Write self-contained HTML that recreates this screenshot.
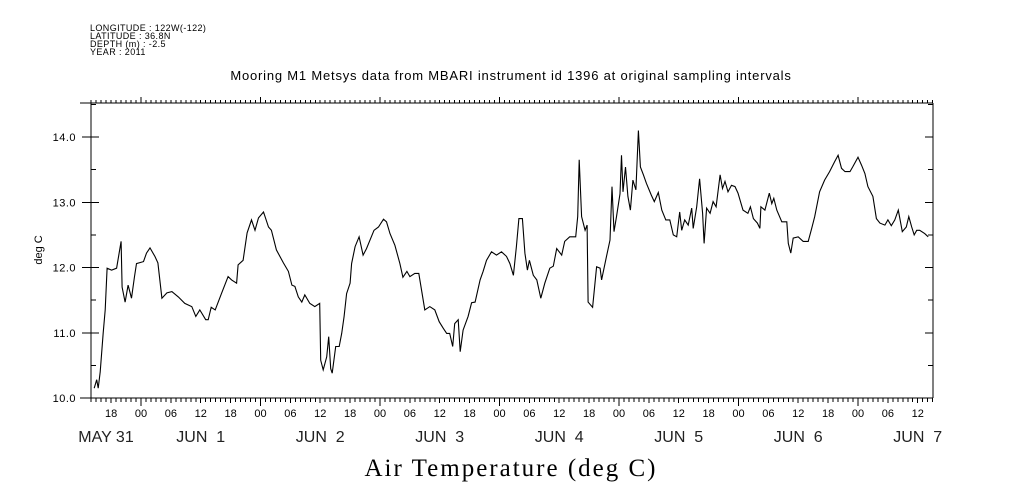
<!DOCTYPE html>
<html><head><meta charset="utf-8"><style>
html,body{margin:0;padding:0;background:#fff;}
svg{display:block;font-family:"Liberation Sans",sans-serif;}
</style></head><body>
<svg id="chart" width="1009" height="504" viewBox="0 0 1009 504">
<g font-size="9" letter-spacing="0.4" fill="#000">
<text x="90" y="31">LONGITUDE : 122W(-122)</text>
<text x="90" y="39">LATITUDE : 36.8N</text>
<text x="90" y="47">DEPTH (m) : -2.5</text>
<text x="90" y="55">YEAR : 2011</text>
</g>
<text x="511" y="80" text-anchor="middle" font-size="13" letter-spacing="0.8">Mooring M1 Metsys data from MBARI instrument id 1396 at original sampling intervals</text>
<text x="511" y="476" text-anchor="middle" font-size="25" font-family="Liberation Serif, serif" letter-spacing="2">Air Temperature (deg C)</text>
<text transform="translate(42,250) rotate(-90)" text-anchor="middle" font-size="11">deg C</text>
<g id="axes"></g>
<g id="series"></g>
</svg>
<script>
const hours=[-9.4,-8.9,-8.6,-8.2,-7.6,-7.2,-6.8,-5.9,-4.9,-4.0,-3.8,-3.2,-2.6,-1.9,-1.3,-0.9,0.5,1.1,1.8,2.8,3.4,4.2,5.2,6.2,7.5,8.8,10.2,11.0,11.8,13.0,13.5,14.1,14.9,16.2,17.5,18.2,19.2,19.5,20.5,21.3,22.2,22.9,23.6,24.6,25.6,26.2,27.2,28.6,29.6,30.3,30.9,31.6,32.3,32.9,33.9,34.9,35.9,36.1,36.6,37.3,37.7,38.1,38.4,39.1,39.8,40.3,40.8,41.3,42.0,42.3,43.0,43.8,44.6,45.3,46.0,46.8,47.7,48.7,49.3,50.0,51.0,52.0,52.6,53.4,54.0,55.0,55.8,56.4,57.0,58.0,59.0,59.9,60.7,61.4,62.0,62.6,63.0,63.7,64.1,64.7,65.7,66.4,67.1,68.1,68.7,69.4,70.4,71.4,72.4,73.4,74.1,74.8,75.4,75.9,76.6,77.1,77.6,78.0,78.8,79.5,80.3,81.1,82.1,82.8,83.5,84.5,85.1,86.1,87.3,87.7,88.0,88.5,89.2,89.6,89.8,90.7,91.5,92.2,92.5,93.5,94.2,94.6,95.0,95.5,96.2,96.5,96.8,97.3,97.8,98.3,98.8,99.4,99.9,100.3,100.9,101.5,102.5,103.1,103.9,104.6,105.4,106.2,106.9,107.6,108.2,108.6,109.2,109.9,110.6,110.9,111.6,112.2,112.8,113.1,113.6,114.3,114.9,115.5,116.3,116.8,117.3,117.9,118.6,119.3,119.9,120.9,121.9,122.4,123.0,123.8,124.3,124.5,125.3,126.2,126.7,127.1,127.7,128.7,129.7,130.0,130.5,131.0,132.0,133.0,134.0,134.7,135.3,136.3,137.3,138.3,139.3,140.0,140.7,141.4,142.4,143.0,144.0,144.7,145.4,146.0,147.0,147.7,148.4,149.4,150.0,150.7,151.4,152.1,152.9,153.7,154.2,154.8,155.3,155.8,156.4,157.4,158.1];
const temps=[10.15,10.28,10.15,10.40,11.0,11.35,11.99,11.96,11.99,12.40,11.70,11.47,11.73,11.53,11.86,12.06,12.09,12.22,12.30,12.17,12.07,11.53,11.61,11.63,11.55,11.45,11.40,11.25,11.35,11.20,11.20,11.39,11.35,11.61,11.86,11.81,11.76,12.04,12.11,12.53,12.73,12.57,12.76,12.85,12.62,12.57,12.27,12.07,11.94,11.73,11.71,11.55,11.47,11.58,11.45,11.40,11.45,10.58,10.43,10.63,10.94,10.45,10.38,10.79,10.79,10.99,11.25,11.60,11.76,12.06,12.32,12.47,12.19,12.29,12.42,12.57,12.62,12.74,12.70,12.52,12.34,12.06,11.85,11.94,11.86,11.91,11.91,11.63,11.35,11.40,11.35,11.17,11.07,10.99,10.99,10.79,11.14,11.20,10.71,11.04,11.25,11.46,11.47,11.81,11.94,12.11,12.24,12.19,12.24,12.17,12.06,11.88,12.32,12.75,12.75,12.22,11.96,12.11,11.88,11.81,11.53,11.76,11.99,12.02,12.29,12.19,12.40,12.47,12.47,12.78,13.65,12.78,12.57,12.65,11.47,11.39,12.01,11.99,11.81,12.17,12.42,13.24,12.55,12.78,13.13,13.72,13.16,13.54,13.09,12.88,13.34,13.19,14.10,13.54,13.42,13.29,13.11,13.01,13.15,12.88,12.73,12.73,12.50,12.47,12.85,12.57,12.73,12.65,12.91,12.60,12.93,13.36,12.83,12.37,12.91,12.83,13.01,12.93,13.42,13.21,13.32,13.16,13.26,13.24,13.14,12.88,12.83,12.93,12.75,12.68,12.60,12.93,12.88,13.14,12.98,13.06,12.88,12.70,12.70,12.37,12.22,12.45,12.47,12.40,12.40,12.60,12.78,13.16,13.34,13.47,13.62,13.72,13.52,13.47,13.47,13.55,13.69,13.57,13.44,13.24,13.09,12.75,12.68,12.65,12.73,12.64,12.73,12.88,12.55,12.62,12.78,12.62,12.50,12.57,12.57,12.52,12.47];
const yTicks=[10,11,12,13,14];
const yTickLabels=["10.0","11.0","12.0","13.0","14.0"];
const hourLabels=["18","00","06","12"];
const dateLabels=["MAY 31","JUN  1","JUN  2","JUN  3","JUN  4","JUN  5","JUN  6","JUN  7"];

const NS="http://www.w3.org/2000/svg";
const L=91,R=933,T=103,B=398;
const H0=141,PXH=4.979;
function xs(h){return H0+h*PXH;}
function ys(v){return B-(v-10)*(B-137)/4;}
function mk(tag,attrs,parent,text){const e=document.createElementNS(NS,tag);for(const k in attrs)e.setAttribute(k,attrs[k]);if(text!==undefined)e.textContent=text;parent.appendChild(e);return e;}
const ax=document.getElementById('axes');
let d=`M80 ${T}H${R}M80 ${B}H${R}M${L} ${T}V${B}M${R} ${T}V${B}`;
for(let h=-10;h<=159;h++){const x=xs(h);if(x<L||x>R)continue;const hh=((h%24)+24)%24;
 const lenB=hh===0?8:(hh%6===0?5:4);const lenT=hh===0?6:3;
 d+=`M${x.toFixed(1)} ${B}v${lenB}M${x.toFixed(1)} ${T}v${-lenT}`;}
for(let v=10;v<=14.51;v+=0.5){const y=ys(v);const maj=Math.abs(v-Math.round(v))<0.01;
 d+=`M${maj?82:L} ${y}H${L+ (maj?8:5)}M${R-(maj?8:5)} ${y}H${R}`;}
const axp=mk('path',{d:d,stroke:'#000','stroke-width':1,fill:'none','shape-rendering':'crispEdges'},ax);


yTicks.forEach((v,i)=>{const t=mk('text',{x:76,y:ys(v)+4,'text-anchor':'end','font-size':11,'letter-spacing':0.5},ax,yTickLabels[i]);
 
 });
for(let h=-6;h<=156;h+=6){const hh=((h%24)+24)%24;const t=mk('text',{x:xs(h),y:417,'text-anchor':'middle','font-size':11},ax,hourLabels[[18,0,6,12].indexOf(hh)]);
 
 }
dateLabels.forEach((s,i)=>{const h=(i-1)*24+12;let x=xs(h);if(i===0)x=106;
 const t=mk('text',{x:x,y:442,'text-anchor':'middle','font-size':16,fill:'#222'},ax,s);
 t.style.whiteSpace='pre';
 
 });
const ser=document.getElementById('series');
const pts=hours.map((h,i)=>xs(h).toFixed(1)+','+ys(temps[i]).toFixed(1)).join(' ');
const pl=mk('polyline',{points:pts,fill:'none',stroke:'#000','stroke-width':1.1},ser);


</script>
</body></html>
